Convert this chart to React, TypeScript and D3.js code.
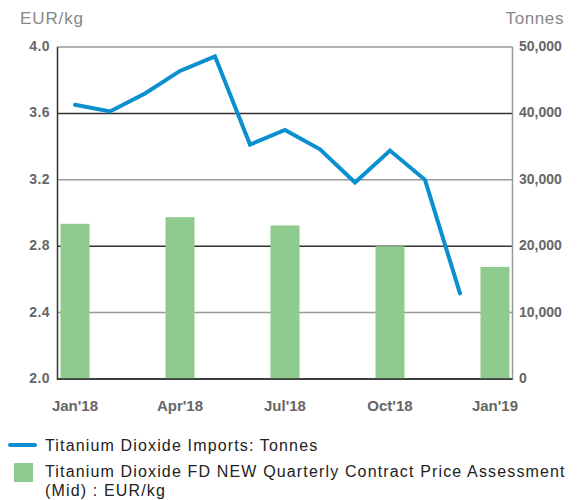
import React, { useEffect, useRef } from 'react';
import * as d3 from 'd3';

const months = ['Jan18', 'Feb18', 'Mar18', 'Apr18', 'May18', 'Jun18', 'Jul18', 'Aug18', 'Sep18', 'Oct18', 'Nov18', 'Dec18', 'Jan19'];
const importMonths = ['Jan18', 'Feb18', 'Mar18', 'Apr18', 'May18', 'Jun18', 'Jul18', 'Aug18', 'Sep18', 'Oct18', 'Nov18', 'Dec18'];
const importTonnes = [41300, 40300, 43000, 46400, 48600, 35300, 37500, 34600, 29600, 34400, 30000, 12900];
const priceMonths = ['Jan18', 'Apr18', 'Jul18', 'Oct18', 'Jan19'];
const priceEur = [2.935, 2.975, 2.925, 2.8, 2.675];
const tickLabels = ["Jan'18", "Apr'18", "Jul'18", "Oct'18", "Jan'19"];
const leftTicks = [2.0, 2.4, 2.8, 3.2, 3.6, 4.0];
const rightTicks = [0, 10000, 20000, 30000, 40000, 50000];

const App = () => {
  const ref = useRef<SVGSVGElement>(null);

  useEffect(() => {
    const svg = d3.select(ref.current);
    svg.selectAll('*').remove();
    const font = '"Liberation Sans", Arial, sans-serif';
    const left = 57.5;
    const right = 512.5;
    const top = 47;
    const bottom = 379;

    const x = d3.scaleBand().domain(months).range([left, right]).paddingInner(0.17).paddingOuter(0.085);
    const yL = d3.scaleLinear().domain([2, 4]).range([bottom, top]);
    const yR = d3.scaleLinear().domain([0, 50000]).range([bottom, top]);
    const cx = (m: string) => (x(m) as number) + x.bandwidth() / 2;

    // gridlines (alternating tones as in the source)
    svg.append('g')
      .selectAll('line')
      .data(leftTicks)
      .join('line')
      .attr('x1', left)
      .attr('x2', right)
      .attr('y1', (d) => yL(d))
      .attr('y2', (d) => yL(d))
      .attr('stroke', (d, i) => (i % 2 === 0 ? '#333' : '#999'))
      .attr('stroke-width', 1.5);

    // bars
    svg.append('g')
      .selectAll('rect')
      .data(priceEur)
      .join('rect')
      .attr('x', (d, i) => x(priceMonths[i]) as number)
      .attr('width', x.bandwidth())
      .attr('y', (d) => yL(d))
      .attr('height', (d) => bottom - yL(d))
      .attr('fill', '#8fcb8f');

    // axis lines
    svg.append('line').attr('x1', left).attr('x2', left).attr('y1', top).attr('y2', bottom + 1)
      .attr('stroke', '#333').attr('stroke-width', 1.5);
    svg.append('line').attr('x1', right).attr('x2', right).attr('y1', top).attr('y2', bottom + 1)
      .attr('stroke', '#999').attr('stroke-width', 1.5);
    svg.append('line').attr('x1', left).attr('x2', right).attr('y1', bottom).attr('y2', bottom)
      .attr('stroke', '#333').attr('stroke-width', 1.5);

    // line
    const line = d3.line<number>()
      .x((d, i) => cx(importMonths[i]))
      .y((d) => yR(d));
    svg.append('path')
      .datum(importTonnes)
      .attr('d', line)
      .attr('fill', 'none')
      .attr('stroke', '#0a8fcf')
      .attr('stroke-width', 4)
      .attr('stroke-linecap', 'round');

    // tick labels
    svg.append('g')
      .selectAll('text')
      .data(leftTicks)
      .join('text')
      .attr('x', 50)
      .attr('y', (d) => yL(d) + 4)
      .attr('text-anchor', 'end')
      .attr('font-family', font)
      .attr('font-weight', 'bold')
      .attr('font-size', 14)
      .attr('letter-spacing', 0.4)
      .attr('fill', '#666')
      .text((d) => d.toFixed(1));

    svg.append('g')
      .selectAll('text')
      .data(rightTicks)
      .join('text')
      .attr('x', 519)
      .attr('y', (d) => yR(d) + 4)
      .attr('font-family', font)
      .attr('font-weight', 'bold')
      .attr('font-size', 14)
      .attr('fill', '#666')
      .text((d) => d3.format(',')(d));

    svg.append('g')
      .selectAll('text')
      .data(tickLabels)
      .join('text')
      .attr('x', (d, i) => cx(priceMonths[i]))
      .attr('y', 411)
      .attr('text-anchor', 'middle')
      .attr('font-family', font)
      .attr('font-weight', 'bold')
      .attr('font-size', 15)
      .attr('fill', '#666')
      .text((d) => d);

    // axis titles
    svg.append('text').attr('x', 20).attr('y', 24).attr('font-family', font).attr('font-size', 17)
      .attr('letter-spacing', 0.9).attr('fill', '#888').text('EUR/kg');
    svg.append('text').attr('x', 564).attr('y', 24).attr('text-anchor', 'end').attr('font-family', font)
      .attr('font-size', 17).attr('letter-spacing', 0.6).attr('fill', '#888').text('Tonnes');

    // legend
    const lg = svg.append('g').attr('font-family', font).attr('font-size', 16)
      .attr('letter-spacing', 1.15).attr('fill', '#222');
    lg.append('line').attr('x1', 10).attr('x2', 35).attr('y1', 445).attr('y2', 445)
      .attr('stroke', '#0a8fcf').attr('stroke-width', 4).attr('stroke-linecap', 'round');
    lg.append('text').attr('x', 45).attr('y', 451).text('Titanium Dioxide Imports: Tonnes');
    lg.append('rect').attr('x', 14).attr('y', 463).attr('width', 19).attr('height', 19).attr('fill', '#8fcb8f');
    lg.append('text').attr('x', 45).attr('y', 477).text('Titanium Dioxide FD NEW Quarterly Contract Price Assessment');
    lg.append('text').attr('x', 45).attr('y', 496).text('(Mid) : EUR/kg');

    return () => {
      svg.selectAll('*').remove();
    };
  }, []);

  return <svg ref={ref} width={579} height={500} style={{ position: 'absolute', left: 0, top: 0 }}></svg>;
};

export default App;
